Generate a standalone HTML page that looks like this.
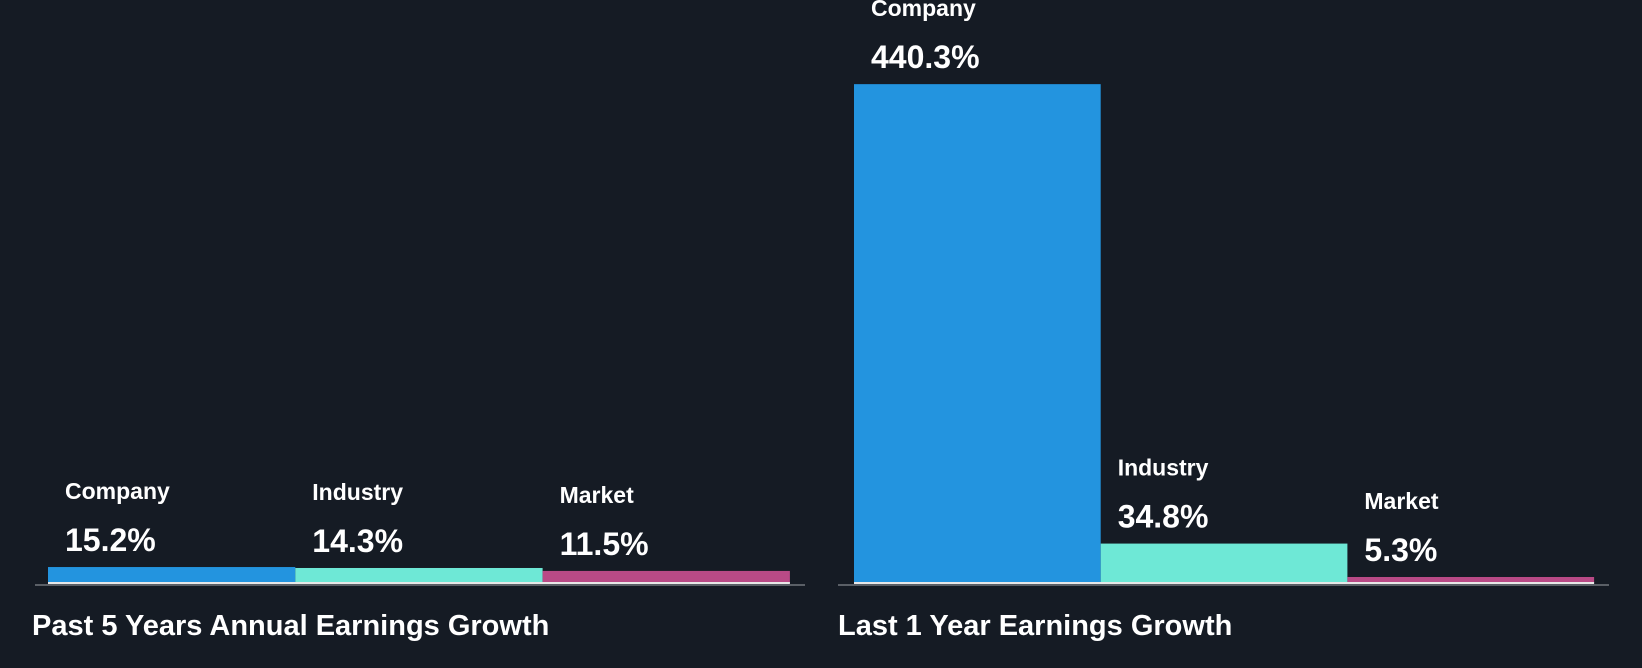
<!DOCTYPE html>
<html><head><meta charset="utf-8"><style>
html,body{margin:0;padding:0;background:#151b24;}
svg{display:block;font-family:"Liberation Sans",sans-serif;}
</style></head><body>
<svg width="1642" height="668" viewBox="0 0 1642 668">
<rect width="1642" height="668" fill="#151b24"/>
<g id="plot"></g>
</svg>
<script>
const categories = ["Company", "Industry", "Market"];
const past5Values = [15.2, 14.3, 11.5];
const last1Values = [440.3, 34.8, 5.3];
const panelTitles = ["Past 5 Years Annual Earnings Growth", "Last 1 Year Earnings Growth"];
const colors = ["#2394df", "#6ee8d6", "#b94a86"];
const NS = "http://www.w3.org/2000/svg";
const g = document.getElementById("plot");
function mk(tag, attrs, parent){const e=document.createElementNS(NS,tag);for(const k in attrs)e.setAttribute(k,attrs[k]);(parent||g).appendChild(e);return e;}
const baseY = 583;
const panels = [
  {vals: past5Values, axisX0: 35, axisX1: 805, barX0: 48, barW: 247.3, scale: 1.05, titleX: 32, name:"past-5-years"},
  {vals: last1Values, axisX0: 838, axisX1: 1609, barX0: 854, barW: 246.7, scale: 1.133, titleX: 838, name:"last-1-year"}
];
panels.forEach((p, pi) => {
  const grp = mk("g", {});
  
  
  p.vals.forEach((v, i) => {
    const h = v * p.scale;
    const x = p.barX0 + i * p.barW;
    const top = baseY - h;
    const r = mk("rect", {x: x, y: top, width: p.barW, height: h, fill: colors[i]}, grp);
    
    
    const tx = x + 17;
    let valY, labY;
    if (top - 68 < 0) { valY = top - 16; labY = top + 37; }
    else { valY = top - 16; labY = valY - 52; }
    const lab = mk("text", {x: tx, y: labY, fill: "#ffffff", "font-size": 23, "font-weight": "bold"}, grp);
    lab.textContent = categories[i];
    
    
    const val = mk("text", {x: tx, y: valY, fill: "#ffffff", "font-size": 32, "font-weight": "bold"}, grp);
    val.textContent = v.toFixed(1) + "%";
    
    
  });
  const wl = mk("rect", {x: p.barX0, y: baseY - 1, width: p.barW * 3, height: 2, fill: "#e8e8e8"}, grp);
  
  
  const ax = mk("rect", {x: p.axisX0, y: baseY + 1, width: p.axisX1 - p.axisX0, height: 2, fill: "#5a5f66"}, grp);
  
  
  const t = mk("text", {x: p.titleX, y: 635, fill: "#ffffff", "font-size": 29, "font-weight": "bold"}, grp);
  t.textContent = panelTitles[pi];
  
  
});
</script>
</body></html>
